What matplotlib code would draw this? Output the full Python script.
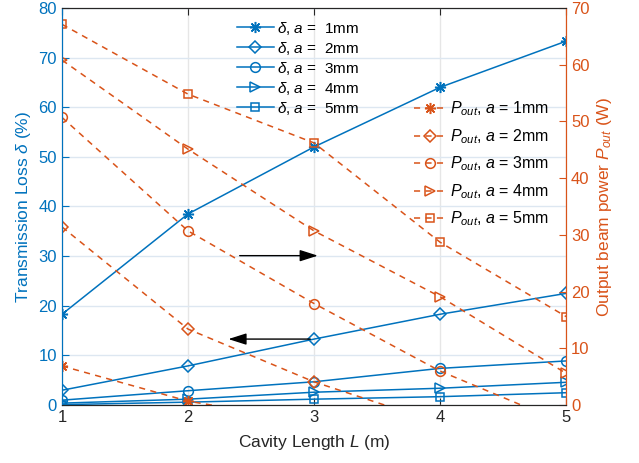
import numpy as np
import matplotlib.pyplot as plt

plt.rcParams['font.family'] = ['Liberation Sans', 'DejaVu Sans']
plt.rcParams['mathtext.fontset'] = 'custom'
plt.rcParams['mathtext.rm'] = 'Liberation Sans'
plt.rcParams['mathtext.it'] = 'Liberation Sans:italic'

BLUE = '#0072BD'
ORANGE = '#D95319'

# cavity length (m)
L = [1, 2, 3, 4, 5]
# transmission loss delta (%) for a = 1..5 mm
delta_a1 = [18.3, 38.5, 52.0, 64.0, 73.3]
delta_a2 = [3.0, 7.9, 13.3, 18.3, 22.5]
delta_a3 = [1.0, 2.9, 4.7, 7.4, 8.9]
delta_a4 = [0.4, 1.2, 2.6, 3.4, 4.6]
delta_a5 = [0.1, 0.6, 1.2, 1.7, 2.5]
# output beam power P_out (W) for a = 1..5 mm
p_a1 = [6.9, 0.7, -3.0, -6.5, -10.0]
p_a2 = [31.4, 13.4, 4.1, -3.2, -10.0]
p_a3 = [50.7, 30.7, 17.9, 6.0, -3.3]
p_a4 = [60.8, 45.1, 30.7, 19.1, 5.6]
p_a5 = [67.1, 54.8, 46.2, 28.7, 15.6]

apertures = [1, 2, 3, 4, 5]
markers = [(8, 2, 0), 'D', 'o', '>', 's']
msizes = [8, 6, 7, 7, 6]
deltas = [delta_a1, delta_a2, delta_a3, delta_a4, delta_a5]
powers = [p_a1, p_a2, p_a3, p_a4, p_a5]

fig = plt.figure(figsize=(6.39, 4.63), dpi=100)
ax1 = fig.add_axes([0.097, 0.125, 0.789, 0.858])
ax2 = ax1.twinx()

h1 = []
for a, m, ms, d in zip(apertures, markers, msizes, deltas):
    ln, = ax1.plot(L, d, color=BLUE, lw=1.1, marker=m, ms=ms, mfc='none',
                   mew=1.1, label=r'$\delta$, $a$ =  %dmm' % a)
    h1.append(ln)

h2 = []
for a, m, ms, p in zip(apertures, markers, msizes, powers):
    ln, = ax2.plot(L, p, color=ORANGE, lw=1.1, ls=(0, (4, 3.5)), marker=m, ms=ms,
                   mfc='none', mew=1.1, label=r'$P_{out}$, $a$ = %dmm' % a)
    h2.append(ln)

ax1.set_xlim(1, 5)
ax1.set_ylim(0, 80)
ax2.set_ylim(0, 70)
ax1.set_xticks(L)
ax1.set_yticks(range(0, 81, 10))
ax2.set_yticks(range(0, 71, 10))

ax1.grid(axis='y', color='#dde7f1', lw=1)
ax1.grid(axis='x', color='#e6e6e6', lw=1)
ax1.set_axisbelow(True)

ax1.tick_params(axis='x', direction='in', colors='#262626', labelsize=12, top=True, length=5)
ax1.tick_params(axis='y', direction='in', colors=BLUE, labelsize=12, length=5)
ax2.tick_params(axis='y', direction='in', colors=ORANGE, labelsize=12, length=5)
for ax in (ax1, ax2):
    ax.spines['top'].set_color('#262626')
    ax.spines['bottom'].set_color('#262626')
    ax.spines['left'].set_color(BLUE)
    ax.spines['right'].set_color(ORANGE)

ax1.set_xlabel('Cavity Length $L$ (m)', fontsize=12.5, color='#262626', labelpad=6)
ax1.set_ylabel(r'Transmission Loss $\delta$ (%)', fontsize=12.5, color=BLUE, labelpad=4)
ax2.set_ylabel('Output beam power $P_{out}$ (W)', fontsize=12.5, color=ORANGE, labelpad=4)

leg1 = ax2.legend(handles=h1, loc='upper left', bbox_to_anchor=(0.335, 0.986),
                  frameon=False, fontsize=11, handlelength=2.4, handletextpad=0.2,
                  labelspacing=0.2, borderaxespad=0)
ax2.add_artist(leg1)
ax2.legend(handles=h2, loc='upper left', bbox_to_anchor=(0.685, 0.785),
           frameon=False, fontsize=11.5, handlelength=2.0, handletextpad=0.3,
           labelspacing=0.55, borderaxespad=0)

ax1.annotate('', xy=(3.03, 30.1), xytext=(2.41, 30.1),
             arrowprops=dict(arrowstyle='-|>,head_length=1.1,head_width=0.35',
                             color='black', lw=1, shrinkA=0, shrinkB=0))
ax1.annotate('', xy=(2.32, 13.3), xytext=(2.97, 13.3),
             arrowprops=dict(arrowstyle='-|>,head_length=1.1,head_width=0.35',
                             color='black', lw=1, shrinkA=0, shrinkB=0))

plt.savefig('out.png', dpi=100)
